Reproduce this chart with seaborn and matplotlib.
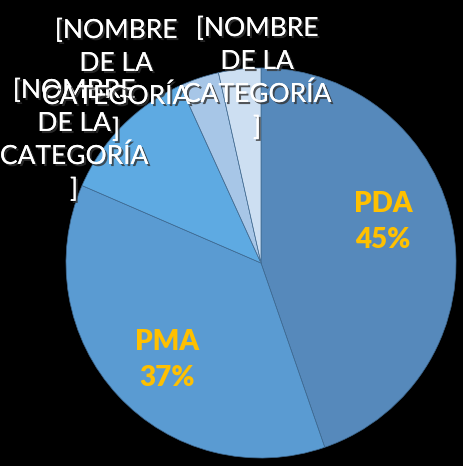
import matplotlib
matplotlib.use("Agg")
import matplotlib.pyplot as plt
import matplotlib.patheffects as pe
import seaborn as sns

categories = ["PDA", "PMA", "[NOMBRE\nDE LA\nCATEGORÍA\n]", "[NOMBRE\nDE LA\nCATEGORÍA\n]", "[NOMBRE\nDE LA\nCATEGORÍA\n]"]
values = [44.7, 36.8, 11.7, 3.3, 3.5]
pct_labels = ["45%", "37%"]
colors = ["#5689bb", "#5a9bd2", "#5eaae2", "#a7c6e7", "#cddff2"]

sns.set_style("dark")
plt.rcParams['font.family'] = ['Lato', 'DejaVu Sans']

W, H = 463, 466
fig = plt.figure(figsize=(W / 100, H / 100), dpi=100, facecolor="black")
cx, cy, r = 261, 263, 195
ax = fig.add_axes([(cx - r) / W, (H - cy - r) / H, 2 * r / W, 2 * r / H])
ax.set_facecolor("black")

wedges, _ = ax.pie(values, colors=colors, startangle=90, counterclock=False,
                   wedgeprops=dict(edgecolor="#3f6a92", linewidth=0.5))
ax.set_xlim(-1, 1)
ax.set_ylim(-1, 1)
ax.set_aspect("equal")
ax.axis("off")

shadow = [pe.withSimplePatchShadow(offset=(1.5, -1.5), shadow_rgbFace="#333333", alpha=0.8), pe.Normal()]

def ft(x, y, s, **kw):
    fig.text(x / W, 1 - y / H, s, ha="center", va="center", **kw)

# main data labels
ft(383, 222, categories[0] + "\n" + pct_labels[0], color="#ffc000", fontsize=20,
   fontweight="heavy", linespacing=1.5)
ft(167, 360, categories[1] + "\n" + pct_labels[1], color="#ffc000", fontsize=20,
   fontweight="heavy", linespacing=1.5)

# small category labels
for (x, y), s in zip([(74, 140), (116, 80), (257, 78)], categories[2:]):
    ft(x, y, s, color="white", fontsize=19, linespacing=1.4, path_effects=shadow)

fig.savefig("out.png", dpi=100, facecolor="black")
